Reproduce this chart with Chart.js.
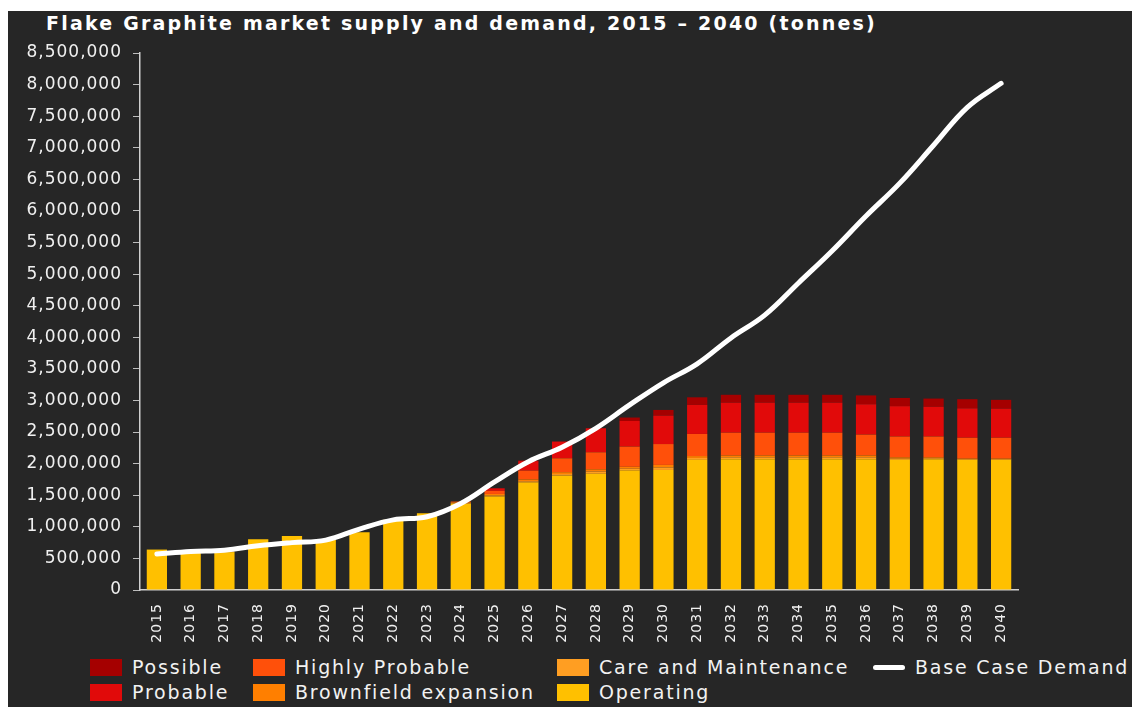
<!DOCTYPE html>
<html>
<head>
<meta charset="utf-8">
<script src="https://cdn.jsdelivr.net/npm/chart.js@4"></script>
<style>
  body { margin: 0; background: #fff; width: 1132px; height: 707px; overflow: hidden; font-family: "DejaVu Sans", sans-serif; }
  #panel { position: absolute; left: 8px; top: 11px; right: 0; bottom: 0; background: #262626; }
  #title { position: absolute; left: 46px; top: 12px; color: #fff; font-weight: bold; font-size: 19px; letter-spacing: 2.2px; white-space: nowrap; }
  #wrap { position: absolute; left: 0; top: 30px; width: 1132px; height: 620px; }
  .leg { position: absolute; color: #f2f2f2; font-size: 19px; letter-spacing: 1.8px; white-space: nowrap; line-height: 22px; }
  .sw { position: absolute; width: 32px; height: 17px; }
  .ln { position: absolute; width: 32px; height: 5px; background: #fff; border-radius: 3px; }
</style>
</head>
<body>
<div id="panel"></div>
<div id="title">Flake Graphite market supply and demand, 2015 – 2040 (tonnes)</div>
<div id="wrap"><canvas id="chart"></canvas></div>
<div id="legend"></div>
<script>
const years = ["2015","2016","2017","2018","2019","2020","2021","2022","2023","2024","2025","2026","2027",
  "2028","2029","2030","2031","2032","2033","2034","2035","2036","2037","2038","2039","2040"];

const operating = [640000, 610000, 600000, 805000, 855000, 790000, 915000, 1110000, 1215000, 1365000, 1480000, 1700000, 1810000,
  1840000, 1890000, 1900000, 2060000, 2070000, 2070000, 2070000, 2070000, 2070000, 2060000, 2070000, 2060000, 2060000];
const careMaintenance = [0, 0, 10000, 0, 0, 0, 0, 0, 0, 10000, 15000, 20000, 25000,
  35000, 30000, 40000, 30000, 30000, 30000, 30000, 30000, 30000, 20000, 15000, 10000, 10000];
const brownfield = [0, 0, 0, 0, 0, 0, 0, 0, 0, 10000, 25000, 30000, 30000,
  35000, 30000, 40000, 30000, 30000, 30000, 30000, 30000, 30000, 20000, 15000, 10000, 10000];
const highlyProbable = [0, 0, 0, 0, 0, 0, 0, 0, 0, 15000, 50000, 140000, 220000,
  270000, 320000, 330000, 350000, 360000, 360000, 360000, 360000, 330000, 330000, 330000, 330000, 330000];
const probable = [0, 0, 0, 0, 0, 0, 0, 0, 0, 0, 40000, 150000, 265000,
  380000, 405000, 450000, 460000, 475000, 475000, 475000, 475000, 480000, 480000, 470000, 465000, 460000];
const possible = [0, 0, 0, 0, 0, 0, 0, 0, 0, 0, 0, 10000, 0,
  0, 55000, 90000, 120000, 125000, 125000, 125000, 125000, 140000, 130000, 130000, 145000, 140000];
const demand = [570000, 610000, 630000, 700000, 750000, 790000, 965000, 1110000, 1160000, 1370000, 1710000, 2030000, 2260000,
  2560000, 2930000, 3280000, 3580000, 3990000, 4350000, 4860000, 5370000, 5920000, 6440000, 7040000, 7640000, 8020000];

const yMax = 8500000;
const yStep = 500000;

const colors = {
  possible: "#a50000",
  probable: "#e10a0a",
  highly: "#ff500a",
  brown: "#ff7f00",
  care: "#ff9e22",
  operating: "#ffc000"
};

function bar(label, data, color) {
  return { type: "bar", label: label, data: data, backgroundColor: color, borderWidth: 0, stack: "supply", order: 1 };
}

// wider text like the original font
const spacing = {
  id: "spacing",
  beforeDraw(c) { c.ctx.letterSpacing = "1px"; }
};

const ctx = document.getElementById("chart").getContext("2d");
const chart = new Chart(ctx, {
  data: {
    labels: years,
    datasets: [
      bar("Operating", operating, colors.operating),
      bar("Care and Maintenance", careMaintenance, colors.care),
      bar("Brownfield expansion", brownfield, colors.brown),
      bar("Highly Probable", highlyProbable, colors.highly),
      bar("Probable", probable, colors.probable),
      bar("Possible", possible, colors.possible),
      {
        type: "line",
        label: "Base Case Demand",
        data: demand,
        borderColor: "#ffffff",
        borderWidth: 5,
        pointRadius: 0,
        tension: 0.4,
        borderCapStyle: "round",
        stack: "demand",
        order: 0
      }
    ]
  },
  options: {
    responsive: true,
    maintainAspectRatio: false,
    animation: false,
    layout: { padding: { left: 0, right: 114, top: 23, bottom: 6 } },
    datasets: { bar: { barPercentage: 0.6, categoryPercentage: 1 } },
    plugins: {
      legend: { display: false },
      tooltip: { enabled: false }
    },
    scales: {
      x: {
        stacked: true,
        grid: { display: false },
        border: { color: "#d0d0d0", width: 1.5 },
        ticks: {
          color: "#f0f0f0",
          font: { family: "DejaVu Sans", size: 14 },
          minRotation: 90,
          maxRotation: 90,
          autoSkip: false,
          padding: 5
        },
        afterFit: (s) => { s.height = 54; }
      },
      y: {
        stacked: true,
        min: 0,
        max: yMax,
        border: { color: "#d0d0d0", width: 1.5 },
        grid: { drawOnChartArea: false, drawTicks: true, tickLength: 7, color: "#bdbdbd" },
        ticks: {
          stepSize: yStep,
          color: "#f0f0f0",
          font: { family: "DejaVu Sans", size: 17 },
          padding: 11,
          callback: (v) => v.toLocaleString("en-US")
        },
        afterFit: (s) => { s.width = 140; }
      }
    }
  },
  plugins: [spacing]
});

// legend (two rows, four columns like the original)
const legendItems = [
  { label: "Possible", color: colors.possible, x: 90, row: 0 },
  { label: "Probable", color: colors.probable, x: 90, row: 1 },
  { label: "Highly Probable", color: colors.highly, x: 253, row: 0 },
  { label: "Brownfield expansion", color: colors.brown, x: 253, row: 1 },
  { label: "Care and Maintenance", color: colors.care, x: 557, row: 0 },
  { label: "Operating", color: colors.operating, x: 557, row: 1 },
  { label: "Base Case Demand", line: true, x: 873, row: 0 }
];
const legend = document.getElementById("legend");
legendItems.forEach(it => {
  const top = 659 + it.row * 25;
  const mark = document.createElement("div");
  if (it.line) {
    mark.className = "ln";
    mark.style.left = it.x + "px";
    mark.style.top = (top + 6) + "px";
  } else {
    mark.className = "sw";
    mark.style.left = it.x + "px";
    mark.style.top = top + "px";
    mark.style.background = it.color;
  }
  legend.appendChild(mark);
  const txt = document.createElement("div");
  txt.className = "leg";
  txt.textContent = it.label;
  txt.style.left = (it.x + 42) + "px";
  txt.style.top = (top - 3) + "px";
  legend.appendChild(txt);
});
</script>
</body>
</html>
